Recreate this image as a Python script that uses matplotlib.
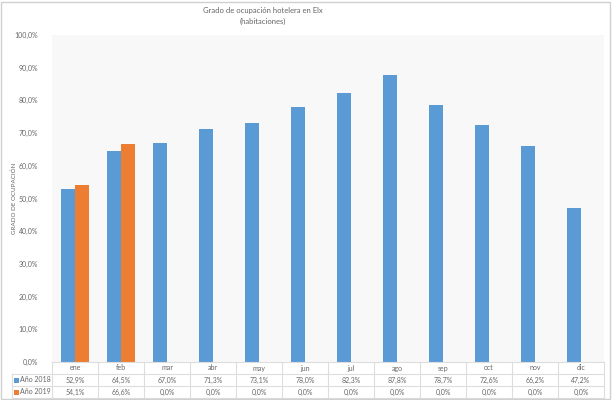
import matplotlib
matplotlib.use("Agg")
import matplotlib.pyplot as plt
import matplotlib.transforms as mtransforms
from matplotlib.patches import Rectangle

months = ["ene", "feb", "mar", "abr", "may", "jun", "jul", "ago", "sep", "oct", "nov", "dic"]
y2018 = [52.9, 64.5, 67.0, 71.3, 73.1, 78.0, 82.3, 87.8, 78.7, 72.6, 66.2, 47.2]
y2019 = [54.1, 66.6, 0.0, 0.0, 0.0, 0.0, 0.0, 0.0, 0.0, 0.0, 0.0, 0.0]
series_names = ["Año 2018", "Año 2019"]
yticks = [0, 10, 20, 30, 40, 50, 60, 70, 80, 90, 100]
title = "Grado de ocupación hotelera en Elx\n(habitaciones)"
ylabel = "GRADO DE OCUPACIÓN"

blue = "#5B9BD5"
orange = "#ED7D31"
grey_txt = "#666666"
line_c = "#DDDDDD"
plt.rcParams['font.family'] = ['Lato', 'DejaVu Sans']

W, H = 612, 400
fig = plt.figure(figsize=(W / 100, H / 100), dpi=100)
fig.patch.set_facecolor("white")

# outer border
fig.add_artist(Rectangle((1 / W, 1 / H), 1 - 3 / W, 1 - 3 / H, transform=fig.transFigure,
                         fill=False, edgecolor="#D0D0D0", linewidth=1))

L, R, T, B = 52, 604, 35, 362
ax = fig.add_axes([L / W, 1 - B / H, (R - L) / W, (B - T) / H])
ax.set_facecolor("#F8F8F8")
x = list(range(len(months)))
bw = 0.3
ax.bar([i - bw / 2 for i in x], y2018, width=bw, color=blue, linewidth=0)
ax.bar([i + bw / 2 for i in x], y2019, width=bw, color=orange, linewidth=0)
ax.set_xlim(-0.5, len(months) - 0.5)
ax.set_ylim(0, 100)
ax.set_yticks(yticks)
ax.set_yticklabels([f"{v:.1f}%".replace(".", ",") for v in yticks], fontsize=5, color=grey_txt)
ax.set_xticks([])
ax.tick_params(axis="y", length=0, pad=10)
for s in ax.spines.values():
    s.set_visible(False)

fig.text(263 / W, 1 - 16 / H, title, ha="center", va="center", fontsize=5.5,
         color=grey_txt, linespacing=1.6)
fig.text(14 / W, 1 - 198 / H, ylabel, rotation=90, ha="center", va="center",
         fontsize=4.5, color=grey_txt)

# data table
tr = mtransforms.blended_transform_factory(ax.transData, fig.transFigure)
rows_y = [362, 374, 386, 398]
def fy(p):
    return 1 - p / H

xl = -0.5 - (L - 12) / ((R - L) / 12)
for i, yy in enumerate(rows_y):
    x0 = -0.5 if i == 0 else xl
    ax.plot([x0, 11.5], [fy(yy), fy(yy)], transform=tr, color=line_c, lw=0.8,
            clip_on=False)
for k in range(13):
    ax.plot([k - 0.5, k - 0.5], [fy(362), fy(398)], transform=tr, color=line_c,
            lw=0.8, clip_on=False)
ax.plot([xl, xl], [fy(374), fy(398)], transform=tr, color=line_c, lw=0.8, clip_on=False)

for i, m in enumerate(months):
    ax.text(i, fy(368), m, transform=tr, ha="center", va="center", fontsize=5, color=grey_txt)
    ax.text(i, fy(380), f"{y2018[i]:.1f}%".replace(".", ","), transform=tr,
            ha="center", va="center", fontsize=5, color=grey_txt)
    ax.text(i, fy(392), f"{y2019[i]:.1f}%".replace(".", ","), transform=tr,
            ha="center", va="center", fontsize=5, color=grey_txt)

for name, col, yy in [(series_names[0], blue, 380), (series_names[1], orange, 392)]:
    fig.add_artist(Rectangle((14 / W, fy(yy + 2.5)), 5 / W, 5 / H, transform=fig.transFigure,
                             facecolor=col, edgecolor="none"))
    fig.text(20 / W, fy(yy), name, ha="left", va="center", fontsize=5, color=grey_txt)

fig.savefig("out.png", dpi=100)
